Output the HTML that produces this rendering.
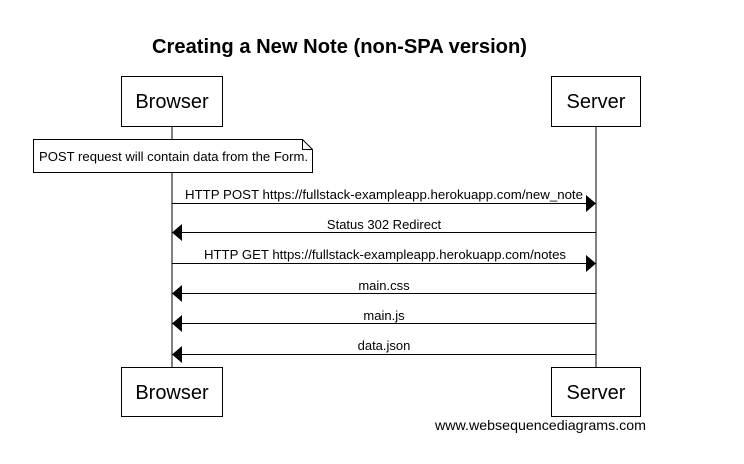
<!DOCTYPE html>
<html><head><style>body{margin:0;background:#fff}</style></head><body>
<svg width="744" height="459" xmlns="http://www.w3.org/2000/svg" font-family="Liberation Sans, Arial, sans-serif">
<rect width="744" height="459" fill="#fff"/>
<text x="152" y="53" font-size="20" font-weight="bold" textLength="375" lengthAdjust="spacingAndGlyphs">Creating a New Note (non-SPA version)</text>
<g stroke="#000" fill="#fff">
<line x1="172" y1="126" x2="172" y2="367"/>
<line x1="596" y1="126" x2="596" y2="367"/>
<rect x="121.5" y="76.5" width="101" height="50"/>
<rect x="551.5" y="76.5" width="89" height="50"/>
<rect x="121.5" y="367.5" width="101" height="49"/>
<rect x="551.5" y="367.5" width="89" height="49"/>
<path d="M33.5 139.5 H302.5 L312.5 149.5 V172.5 H33.5 Z"/>
<path d="M302.5 139.5 V149.5 H312.5" fill="none"/>
<line x1="172" y1="203.5" x2="588" y2="203.5"/>
<line x1="180" y1="232.5" x2="596" y2="232.5"/>
<line x1="172" y1="263.5" x2="588" y2="263.5"/>
<line x1="180" y1="293.5" x2="596" y2="293.5"/>
<line x1="180" y1="323.5" x2="596" y2="323.5"/>
<line x1="180" y1="354.5" x2="596" y2="354.5"/>
</g>
<g fill="#000">
<path d="M586 195 L596 203.5 L586 212 Z"/>
<path d="M182 224 L172 232.5 L182 241 Z"/>
<path d="M586 255 L596 263.5 L586 272 Z"/>
<path d="M182 285 L172 293.5 L182 302 Z"/>
<path d="M182 315 L172 323.5 L182 332 Z"/>
<path d="M182 346 L172 354.5 L182 363 Z"/>
</g>
<g font-size="20" text-anchor="middle">
<text x="172" y="108">Browser</text>
<text x="596" y="108">Server</text>
<text x="172" y="399">Browser</text>
<text x="596" y="399">Server</text>
</g>
<g font-size="13">
<text x="39" y="161" textLength="269" lengthAdjust="spacingAndGlyphs">POST request will contain data from the Form.</text>
<text x="185" y="199" textLength="398" lengthAdjust="spacingAndGlyphs">HTTP POST https://fullstack-exampleapp.herokuapp.com/new_note</text>
<text x="204" y="259" textLength="362" lengthAdjust="spacingAndGlyphs">HTTP GET https://fullstack-exampleapp.herokuapp.com/notes</text>
</g>
<g font-size="13" text-anchor="middle">
<text x="384" y="229">Status 302 Redirect</text>
<text x="384" y="290">main.css</text>
<text x="384" y="320">main.js</text>
<text x="384" y="350">data.json</text>
</g>
<text x="435" y="430" font-size="14" textLength="211" lengthAdjust="spacingAndGlyphs">www.websequencediagrams.com</text>
</svg>
</body></html>
